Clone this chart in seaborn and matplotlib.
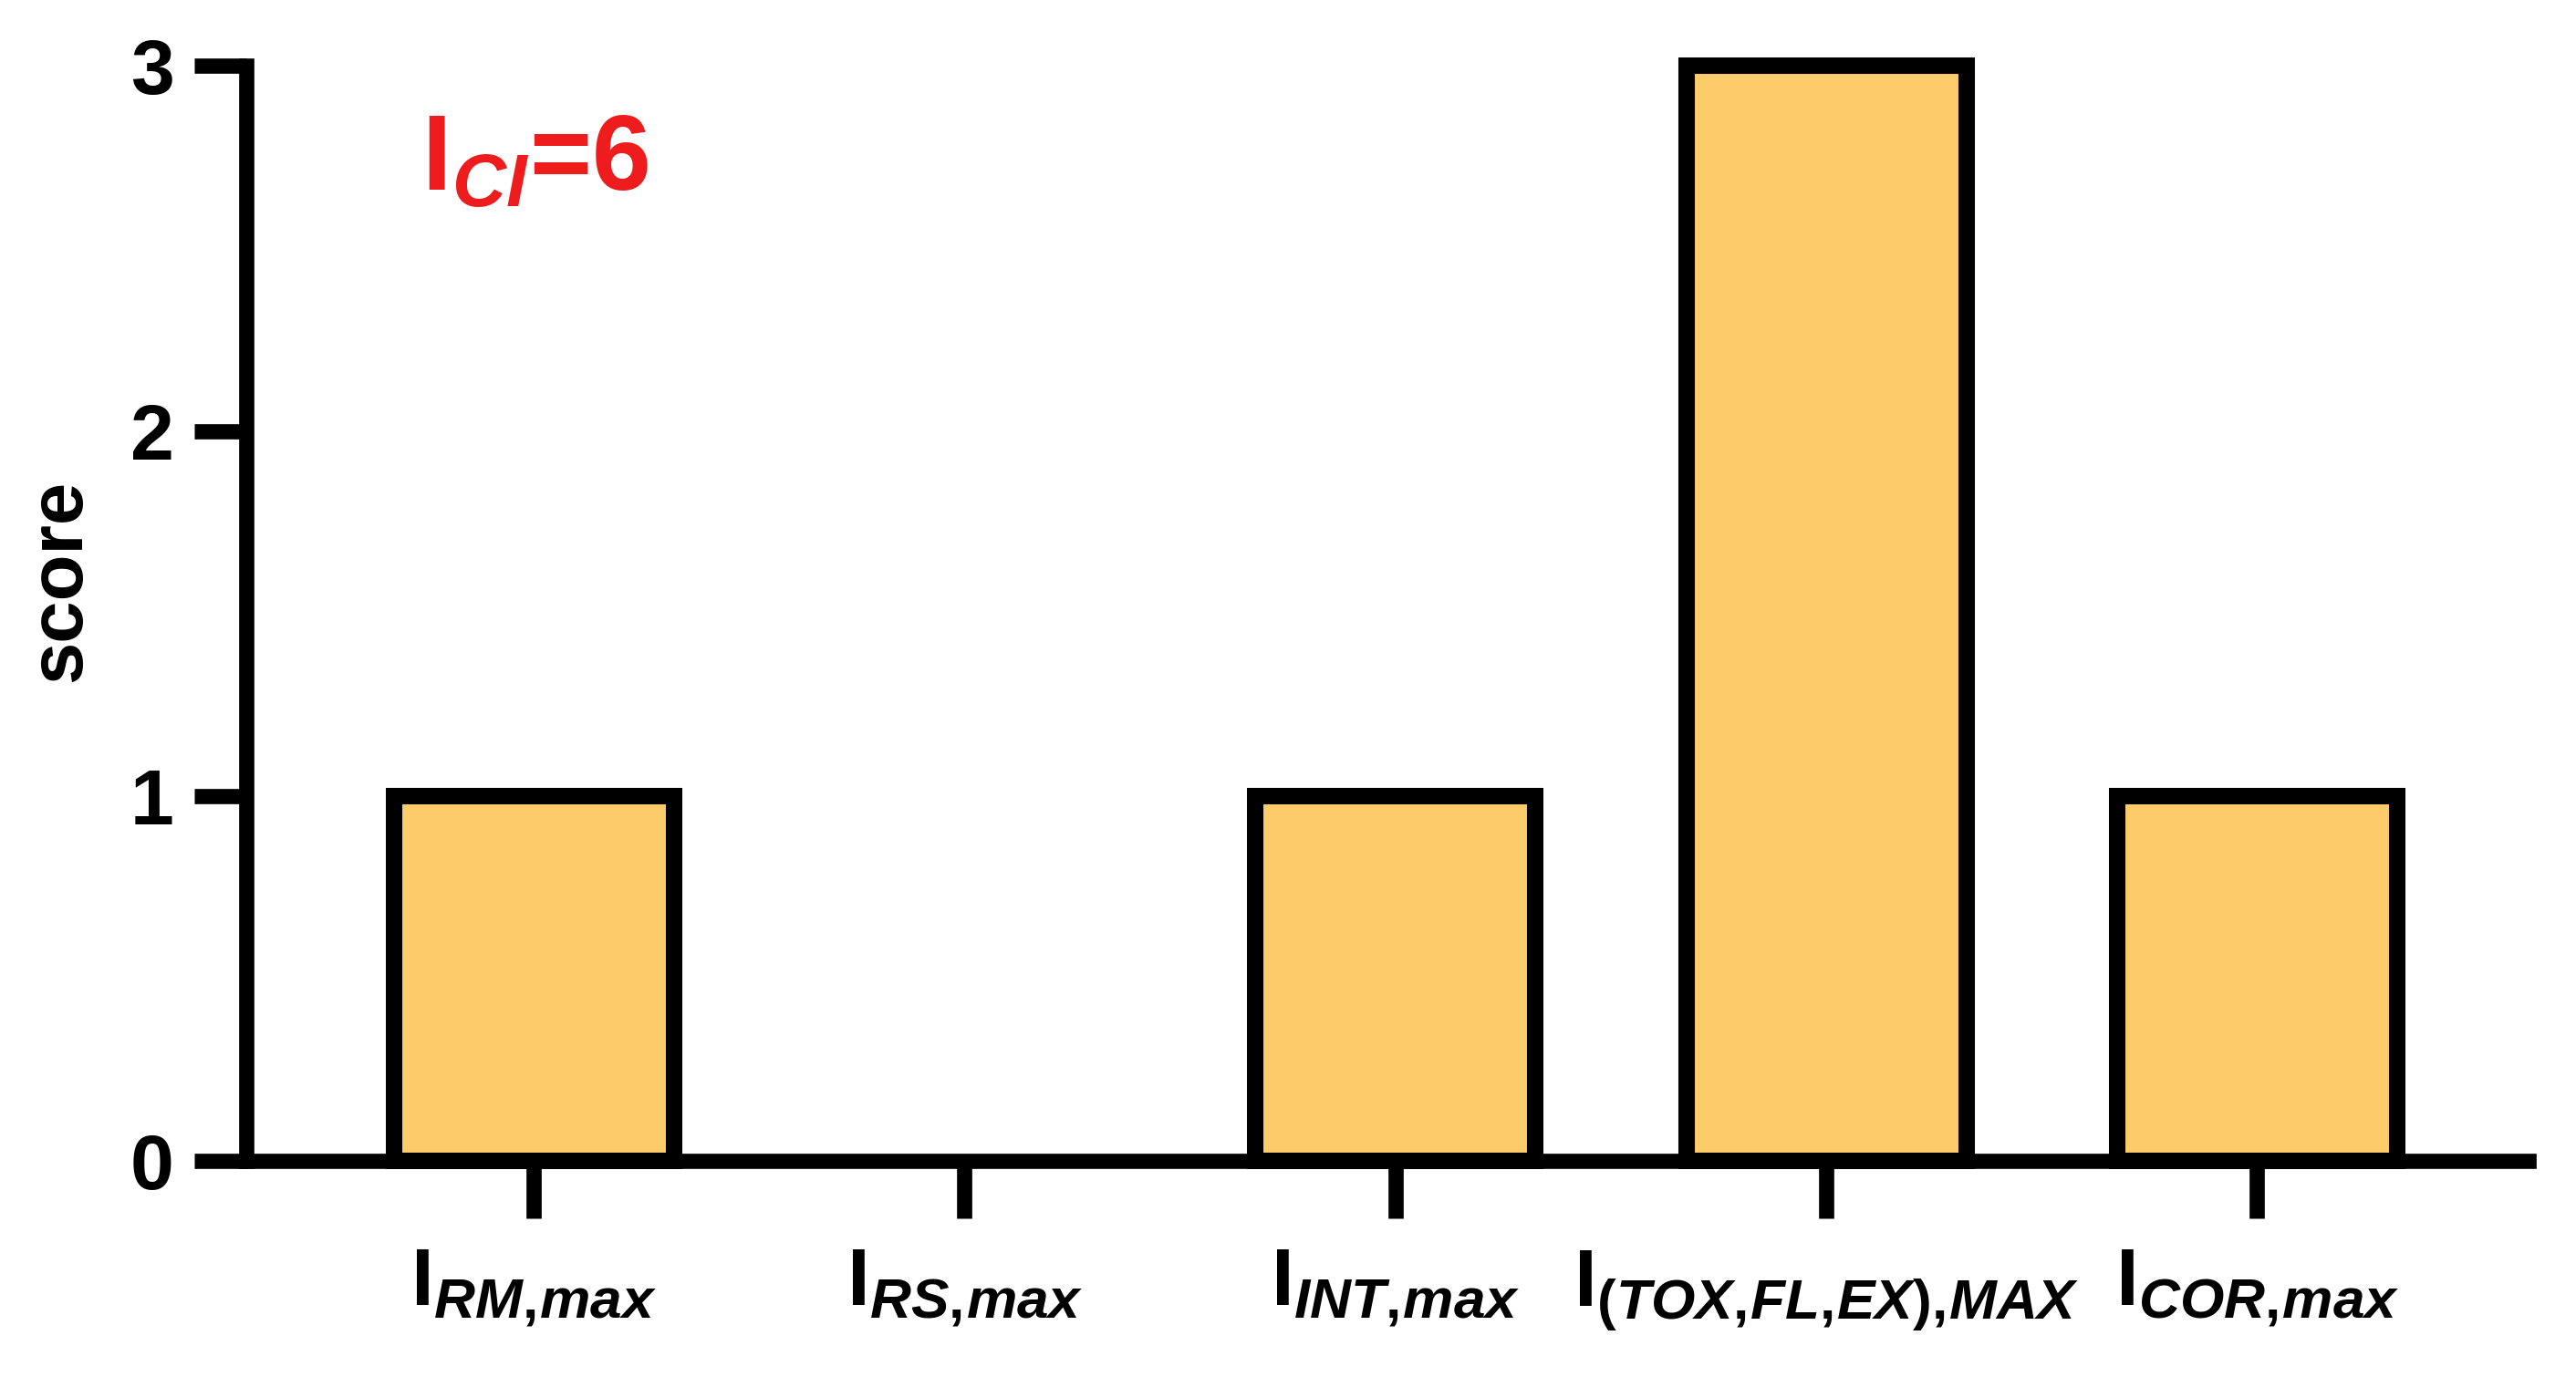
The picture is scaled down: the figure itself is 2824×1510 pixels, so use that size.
import matplotlib
matplotlib.use("Agg")
import matplotlib.pyplot as plt
import seaborn as sns
import pandas as pd

categories = ["RM,max", "RS,max", "INT,max", "(TOX,FL,EX),MAX", "COR,max"]
scores = [1, 0, 1, 3, 1]
yticks = [0, 1, 2, 3]
total_label = "CI"
total_value = 6

main_font = "Liberation Sans"

sns.set_theme(style="white")
plt.rcParams["font.family"] = [main_font, "DejaVu Sans"]
plt.rcParams["font.weight"] = "bold"
plt.rcParams["mathtext.fontset"] = "custom"
plt.rcParams["mathtext.rm"] = f"{main_font}:bold"
plt.rcParams["mathtext.it"] = f"{main_font}:italic:bold"
plt.rcParams["mathtext.bf"] = f"{main_font}:bold"

df = pd.DataFrame({"index": categories, "score": scores})

fig = plt.figure(figsize=(28.24, 15.10), dpi=100)
ax = fig.add_axes([0.0956, 0.157, 0.886, 0.795])

sns.barplot(data=df, x="index", y="score", color="#fccb6a", saturation=1,
            width=0.65, edgecolor="black", linewidth=13, ax=ax)
for p in ax.patches:
    p.set_clip_on(False)
    if p.get_height() == 0:
        p.set_linewidth(0)

ax.set_xlim(-0.667, 4.63)
ax.set_ylim(0, 3)
ax.set_yticks(yticks)
ax.set_yticklabels([str(t) for t in yticks])
ax.set_xticks(range(len(categories)))
ax.set_xticklabels([r"$\mathrm{I}_{%s}$" % c.replace(",", r",\!") for c in categories])

for s in ["top", "right"]:
    ax.spines[s].set_visible(False)
for s in ["left", "bottom"]:
    ax.spines[s].set_linewidth(12)
    ax.spines[s].set_color("black")

ax.tick_params(axis="y", length=41, width=12, pad=16, labelsize=62, colors="black")
ax.tick_params(axis="x", length=45, width=12, pad=24, labelsize=64, colors="black")
ax.tick_params(left=True, bottom=True)
for lab in ax.get_yticklabels() + ax.get_xticklabels():
    lab.set_fontweight("bold")

ax.set_xlabel("")
ax.set_ylabel("score", fontsize=60, fontweight="bold", color="black")
ax.yaxis.set_label_coords(-0.066, 0.53)

ax.text(-0.26, 2.66, r"$\mathrm{I}_{%s}$=%d" % (total_label, total_value),
        color="#ee1c1c", fontsize=84, fontweight="bold", ha="left", va="baseline")

fig.savefig("out.png", dpi=100)
plt.close(fig)
